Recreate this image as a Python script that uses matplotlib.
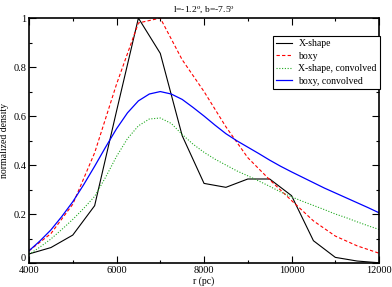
import matplotlib
matplotlib.use("Agg")
import matplotlib.pyplot as plt
import matplotlib.transforms as mtransforms
from matplotlib.ticker import MultipleLocator

# raw profiles, sampled every 500 pc
r = [4000, 4500, 5000, 5500, 6000, 6500, 7000, 7500, 8000, 8500, 9000, 9500,
     10000, 10500, 11000, 11500, 12000]
xshape = [0.037, 0.063, 0.114, 0.234, 0.62, 1.0, 0.856, 0.52, 0.325, 0.309, 0.343,
          0.343, 0.275, 0.091, 0.023, 0.008, 0.001]
boxy = [0.05, 0.12, 0.24, 0.45, 0.73, 0.98, 1.0, 0.83, 0.70, 0.556, 0.43, 0.34,
        0.255, 0.172, 0.11, 0.07, 0.04]

# convolved profiles, sampled every 250 pc
r_conv = [4000, 4250, 4500, 4750, 5000, 5250, 5500, 5750, 6000, 6250, 6500, 6750,
          7000, 7250, 7500, 7750, 8000, 8250, 8500, 8750, 9000, 9250, 9500, 9750,
          10000, 10250, 10500, 10750, 11000, 11250, 11500, 11750, 12000]
xshape_conv = [0.035, 0.065, 0.098, 0.137, 0.178, 0.223, 0.272, 0.35, 0.435, 0.508,
               0.56, 0.588, 0.592, 0.57, 0.525, 0.485, 0.452, 0.424, 0.40, 0.376,
               0.356, 0.335, 0.313, 0.29, 0.27, 0.252, 0.235, 0.218, 0.20, 0.185,
               0.168, 0.152, 0.137]
boxy_conv = [0.05, 0.09, 0.135, 0.19, 0.25, 0.32, 0.395, 0.473, 0.548, 0.613,
             0.662, 0.69, 0.70, 0.69, 0.668, 0.635, 0.60, 0.563, 0.528, 0.499,
             0.473, 0.447, 0.42, 0.395, 0.372, 0.35, 0.328, 0.306, 0.286, 0.266,
             0.246, 0.226, 0.205]

y_ticks = [0, 0.2, 0.4, 0.6, 0.8, 1.0]
y_ticklabels = ['0', '0.2', '0.4', '0.6', '0.8', '1']

plt.rcParams['font.family'] = ['Liberation Serif', 'DejaVu Serif']
plt.rcParams['mathtext.fontset'] = 'stix'

fig = plt.figure(figsize=(3.92, 2.87), dpi=100)
ax = fig.add_axes([0.074, 0.0836, 0.893, 0.8534])

ax.plot(r, xshape, color='black', lw=0.8, label='X-shape')
ax.plot(r, boxy, color='red', lw=0.8, ls=(0, (3, 2)), label='boxy')
ax.plot(r_conv, xshape_conv, color='#22aa22', lw=0.8, ls=(0, (1, 1.5)),
        label='X-shape, convolved')
ax.plot(r_conv, boxy_conv, color='blue', lw=0.9, label='boxy, convolved')

ax.set_xlim(4000, 12000)
ax.set_ylim(0, 1)
ax.xaxis.set_major_locator(MultipleLocator(2000))
ax.xaxis.set_minor_locator(MultipleLocator(1000))
ax.yaxis.set_minor_locator(MultipleLocator(0.1))
ax.set_yticks(y_ticks)
ax.set_yticklabels(y_ticklabels)
ax.tick_params(which='both', direction='in', top=True, right=True, labelsize=7.5, pad=2)
ax.tick_params(which='major', length=5, width=0.8)
ax.tick_params(which='minor', length=2.5, width=0.8)
for s in ax.spines.values():
    s.set_linewidth(1.2)

# nudge the "0" label up so it sits above the x tick labels, as in the original
zero_lbl = ax.get_yticklabels()[0]
zero_lbl.set_transform(zero_lbl.get_transform() +
                       mtransforms.ScaledTranslation(0, 4 / 72, fig.dpi_scale_trans))

ax.set_xlabel('r (pc)', fontsize=7, labelpad=1)
ax.set_ylabel('normalized density', fontsize=7, labelpad=3)
ax.set_title(r'l=-1.2$^{\rm o}$, b=-7.5$^{\rm o}$', fontsize=6.8, pad=5)

leg = ax.legend(loc='upper right', bbox_to_anchor=(1.003, 0.927), fontsize=7,
                frameon=True, fancybox=False, edgecolor='black', framealpha=1,
                handlelength=1.6, borderpad=0.35, labelspacing=0.35, handletextpad=0.7,
                borderaxespad=0)
leg.get_frame().set_linewidth(0.8)

fig.savefig('out.png', dpi=100)
